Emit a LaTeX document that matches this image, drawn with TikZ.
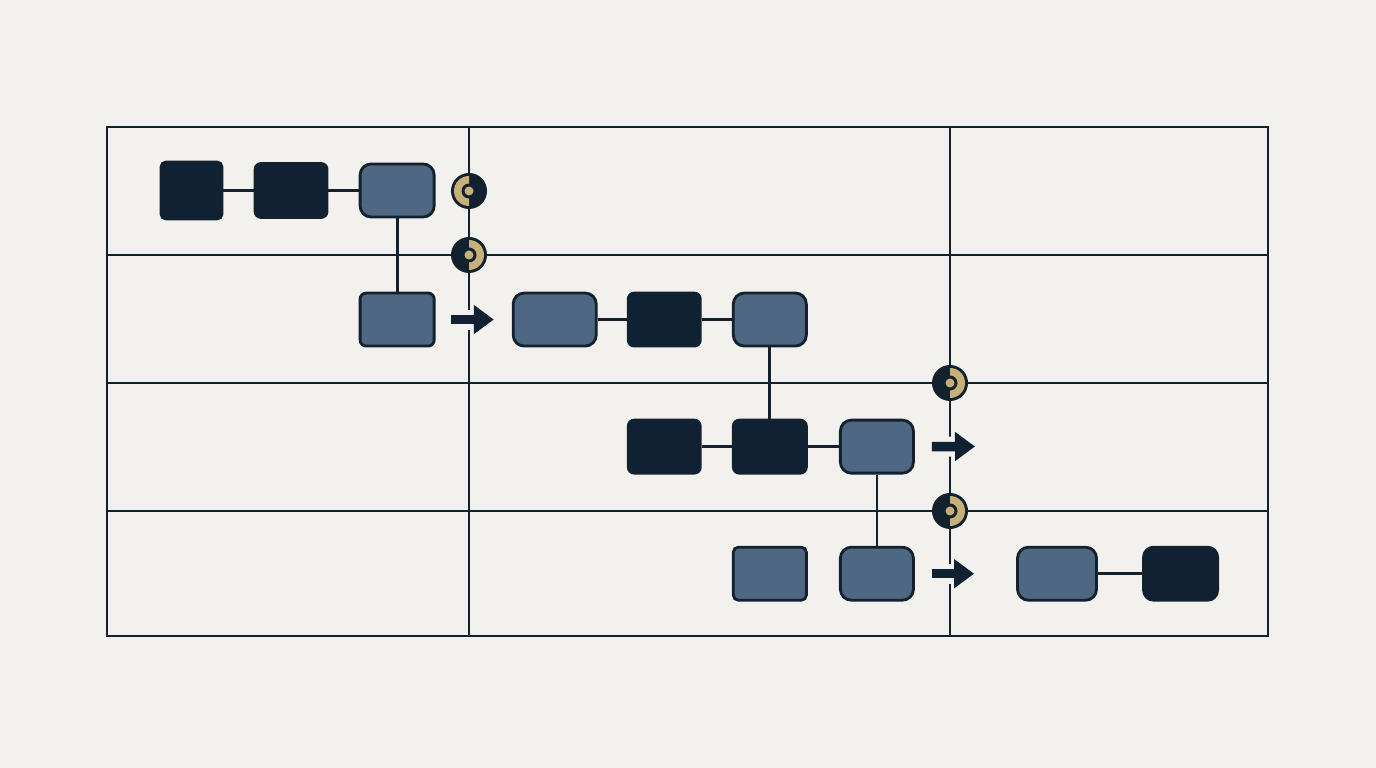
\documentclass[tikz,border=0pt]{standalone}
\usetikzlibrary{positioning, arrows.meta}
\definecolor{bg}{HTML}{F2F1ED}
\definecolor{ink}{HTML}{13212F}
\definecolor{navy}{HTML}{0F2133}
\definecolor{slate}{HTML}{4E6782}
\definecolor{gold}{HTML}{C8B07B}

\begin{document}
\begin{tikzpicture}[x=0.01cm, y=-0.01cm, on grid]
                \tikzset{
                    darkbox/.style={draw=ink, line width=0.8pt, fill=navy, rounded corners=0.06cm, minimum width=0.73cm, minimum height=0.53cm, inner sep=0pt},
                    bluebox/.style={darkbox, fill=slate, rounded corners=0.11cm},
                    link/.style={draw=ink, line width=0.8pt},
                    grid line/.style={draw=ink, line width=0.8pt},
                    flow/.style={draw=navy, line width=0.095cm, -{Triangle[length=0.2cm, width=0.28cm]}, preaction={draw=bg, line width=0.2cm, arrows=-}},
                    marker/.style={circle, fill=ink, minimum size=0.36cm, inner sep=0pt, path picture={
                        \fill[gold] ([shift={(#1:0.15cm)}]path picture bounding box.center) arc[start angle=#1, delta angle=180, radius=0.15cm] -- cycle;
                        \fill[ink] (path picture bounding box.center) circle[radius=0.075cm];
                        \fill[gold] (path picture bounding box.center) circle[radius=0.045cm];}}
                }
                \useasboundingbox (0,0) rectangle (1376,768);
                \fill[bg] (0,0) rectangle (1376,768);

                % GRID
                \draw[grid line] (107,127) rectangle (1268,636);
                \draw[grid line] (107,255) -- (1268,255);
                \draw[grid line] (107,383) -- (1268,383);
                \draw[grid line] (107,511) -- (1268,511);
                \draw[grid line] (469,127) -- (469,636);
                \draw[grid line] (950,127) -- (950,636);

                % MARKERS
                \node[marker=90] (m1) at (469,191) {};
                \node[marker=-90] (m2) at (469,255) {};
                \node[marker=-90] (m3) at (950,383) {};
                \node[marker=-90] (m4) at (950,511) {};

                % ROW 1
                \node[darkbox, minimum width=0.61cm, minimum height=0.57cm, rounded corners=0.05cm] (a1) at (191.5,190.5) {};
                \node[darkbox, minimum width=0.72cm, minimum height=0.54cm] (a2) [right=0.995cm of a1] {};
                \node[bluebox, minimum width=0.74cm] (a3) [right=1.06cm of a2] {};

                % ROW 2
                \node[bluebox, minimum width=0.74cm, rounded corners=0.06cm] (b1) [below=1.29cm of a3] {};
                \node[bluebox, minimum width=0.83cm] (b2) [right=1.575cm of b1] {};
                \node[darkbox, minimum width=0.72cm] (b3) [right=1.095cm of b2] {};
                \node[bluebox] (b4) [right=1.055cm of b3] {};

                % ROW 3
                \node[darkbox] (c2) [below=1.27cm of b4] {};
                \node[darkbox, minimum width=0.72cm] (c1) [left=1.055cm of c2] {};
                \node[bluebox] (c3) [right=1.07cm of c2] {};
                \coordinate (c4) at (975,446.5);

                % ROW 4
                \node[bluebox] (d2) [below=1.27cm of c3] {};
                \node[bluebox, rounded corners=0.05cm] (d1) [left=1.07cm of d2] {};
                \node[bluebox, minimum width=0.79cm] (d3) [right=1.8cm of d2] {};
                \node[darkbox, minimum width=0.74cm, rounded corners=0.1cm] (d4) [right=1.235cm of d3] {};

                % LINKS
                \path[link]
                    (a1) -- (a2)
                    (a2) -- (a3)
                    (a3) -- (b1)
                    (b2) -- (b3)
                    (b3) -- (b4)
                    (b4) -- (c2)
                    (c1) -- (c2)
                    (c2) -- (c3)
                    (c3) -- (d2)
                    (d3) -- (d4);

                % ARROWS
                \draw[flow, shorten <=0.15cm, shorten >=0.18cm] (b1) -- (b2);
                \draw[flow, shorten <=0.17cm] (c3) -- (c4);
                \draw[flow, shorten <=0.17cm, shorten >=0.42cm] (d2) -- (d3);

            \end{tikzpicture}
\end{document}
